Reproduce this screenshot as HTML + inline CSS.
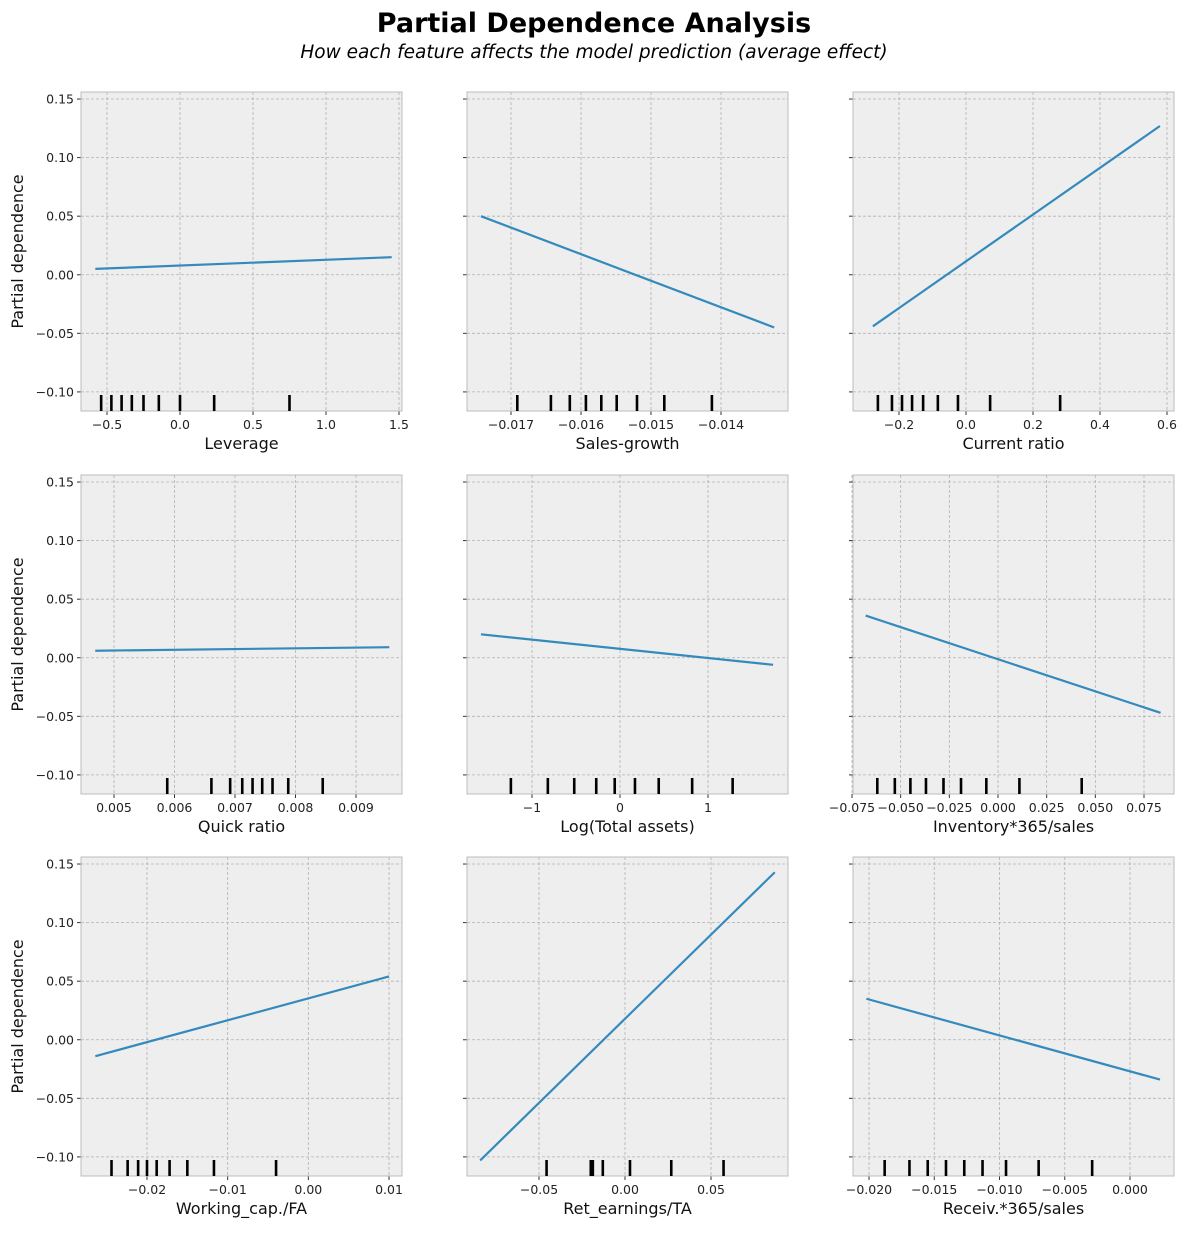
<!DOCTYPE html>
<html><head><meta charset="utf-8"><style>
body{margin:0;background:#fff;font-family:"Liberation Sans","DejaVu Sans",sans-serif}
</style></head><body>
<svg id="c" width="1189" height="1229" xmlns="http://www.w3.org/2000/svg">
<text x="594" y="32" text-anchor="middle" font-size="27" font-weight="bold" font-family="DejaVu Sans, Liberation Sans, sans-serif">Partial Dependence Analysis</text>
<text x="594" y="58" text-anchor="middle" font-size="18.5" font-style="italic" font-family="DejaVu Sans, Liberation Sans, sans-serif">How each feature affects the model prediction (average effect)</text>
</svg>
<script>
const features=["Leverage","Sales-growth","Current ratio","Quick ratio","Log(Total assets)","Inventory*365/sales","Working_cap./FA","Ret_earnings/TA","Receiv.*365/sales"];
const lineX=[[-0.58,1.45],[-0.01743,-0.01324],[-0.278,0.579],[0.00469,0.00955],[-1.58,1.74],[-0.068,0.0835],[-0.0264,0.0100],[-0.0842,0.0871],[-0.0202,0.0023]];
const lineY=[[0.005,0.015],[0.050,-0.045],[-0.044,0.127],[0.006,0.009],[0.020,-0.006],[0.036,-0.047],[-0.014,0.054],[-0.103,0.143],[0.035,-0.034]];
const rugs=[[-0.54,-0.47,-0.40,-0.33,-0.25,-0.145,0,0.234,0.75],
[-0.01691,-0.01643,-0.01616,-0.01593,-0.01571,-0.01549,-0.01520,-0.01481,-0.01413],
[-0.263,-0.221,-0.191,-0.161,-0.128,-0.084,-0.024,0.072,0.281],
[0.00588,0.00661,0.00692,0.00712,0.00729,0.00745,0.00762,0.00788,0.00845],
[-1.24,-0.82,-0.52,-0.27,-0.06,0.17,0.44,0.82,1.28],
[-0.062,-0.053,-0.045,-0.037,-0.028,-0.019,-0.006,0.011,0.043],
[-0.0244,-0.0224,-0.0211,-0.0200,-0.0188,-0.0172,-0.0150,-0.0117,-0.0040],
[-0.0456,-0.0199,-0.0187,-0.0129,0.0029,0.0269,0.0573],
[-0.0188,-0.0169,-0.0155,-0.0141,-0.0127,-0.0113,-0.0095,-0.0070,-0.0029]];
const xTicks=[[-0.5,0,0.5,1,1.5],[-0.017,-0.016,-0.015,-0.014],[-0.2,0,0.2,0.4,0.6],[0.005,0.006,0.007,0.008,0.009],[-1,0,1],[-0.075,-0.05,-0.025,0,0.025,0.05,0.075],[-0.02,-0.01,0,0.01],[-0.05,0,0.05],[-0.02,-0.015,-0.01,-0.005,0]];
const xTickLabels=[["−0.5","0.0","0.5","1.0","1.5"],["−0.017","−0.016","−0.015","−0.014"],["−0.2","0.0","0.2","0.4","0.6"],["0.005","0.006","0.007","0.008","0.009"],["−1","0","1"],["−0.075","−0.050","−0.025","0.000","0.025","0.050","0.075"],["−0.02","−0.01","0.00","0.01"],["−0.05","0.00","0.05"],["−0.020","−0.015","−0.010","−0.005","0.000"]];
const yTicks=[-0.10,-0.05,0,0.05,0.10,0.15];
const yTickLabels=["−0.10","−0.05","0.00","0.05","0.10","0.15"];
// axis calibration: value anchors mapped to pixel offsets within panel
const xCal=[[0,99,0.5,172],[-0.015,184,-0.014,254],[0,113,0.2,180],[0.005,33,0.009,275],[0,153,1,241],[0,145,0.075,291],[-0.02,66,0.01,308],[0,158,0.05,244],[-0.02,16,0,277]];
const colX=[81,467,853], rowY=[92,475,857], W=321, H=319;
const yTop=0.156, yBot=-0.1163;
const svg=document.getElementById('c');
const NS="http://www.w3.org/2000/svg";
function mk(t,a,p){const e=document.createElementNS(NS,t);for(const k in a)e.setAttribute(k,a[k]);(p||svg).appendChild(e);return e;}
features.forEach((f,i)=>{
  const r=Math.floor(i/3),c=i%3,x0=colX[c],y0=rowY[r];
  const cal=xCal[i];
  const xs=v=>x0+cal[1]+(v-cal[0])*(cal[3]-cal[1])/(cal[2]-cal[0]);
  const ys=v=>y0+(yTop-v)/(yTop-yBot)*H;
  const g=mk('g',{});
  
  
  mk('rect',{x:x0,y:y0,width:W,height:H,fill:'#eeeeee'},g);
  xTicks[i].forEach((t,k)=>{const px=xs(t);
    const gl=mk('line',{x1:px,x2:px,y1:y0,y2:y0+H,stroke:'#b2b2b2','stroke-width':0.8,'stroke-dasharray':'3,2'},g);
    
    
    mk('line',{x1:px,x2:px,y1:y0+H,y2:y0+H+4,stroke:'#333','stroke-width':1},g);
    const tl=mk('text',{x:px,y:y0+H+18,'text-anchor':'middle','font-size':12.5,fill:'#222','font-family':'DejaVu Sans, Liberation Sans, sans-serif'},g);
    tl.textContent=xTickLabels[i][k];
    
    
  });
  yTicks.forEach((t,k)=>{const py=ys(t);
    const gl=mk('line',{x1:x0,x2:x0+W,y1:py,y2:py,stroke:'#b2b2b2','stroke-width':0.8,'stroke-dasharray':'3,2'},g);
    
    
    mk('line',{x1:x0-4,x2:x0,y1:py,y2:py,stroke:'#333','stroke-width':1},g);
    if(c===0){const tl=mk('text',{x:x0-7,y:py+4.5,'text-anchor':'end','font-size':12.5,fill:'#222','font-family':'DejaVu Sans, Liberation Sans, sans-serif'},g);
      tl.textContent=yTickLabels[k];
      
      }
  });
  mk('rect',{x:x0,y:y0,width:W,height:H,fill:'none',stroke:'#bcbcbc','stroke-width':1},g);
  rugs[i].forEach(v=>{const px=xs(v);
    const rl=mk('line',{x1:px,x2:px,y1:y0+H-16,y2:y0+H,stroke:'#000','stroke-width':2.6},g);
    
    
  });
  const ln=mk('line',{x1:xs(lineX[i][0]),y1:ys(lineY[i][0]),x2:xs(lineX[i][1]),y2:ys(lineY[i][1]),stroke:'#348abd','stroke-width':2.2},g);
  
  
  const xl=mk('text',{x:x0+W/2,y:y0+H+38,'text-anchor':'middle','font-size':16,fill:'#111','font-family':'DejaVu Sans, Liberation Sans, sans-serif'},g);
  xl.textContent=f;
  
  
  if(c===0){const yl=mk('text',{x:0,y:0,'text-anchor':'middle','font-size':16,fill:'#111','font-family':'DejaVu Sans, Liberation Sans, sans-serif',transform:`translate(23,${y0+H/2}) rotate(-90)`},g);
    yl.textContent='Partial dependence';
    
    }
});
</script>
</body></html>
